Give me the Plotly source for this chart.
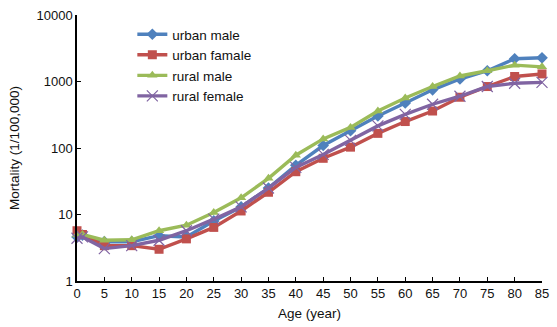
import plotly.graph_objects as go

ages = [0, 1, 5, 10, 15, 20, 25, 30, 35, 40, 45, 50, 55, 60, 65, 70, 75, 80, 85]
urban_male = [4.6, 4.9, 3.9, 3.9, 4.8, 4.6, 8, 13, 25, 55, 109, 182, 303, 475, 750, 1090, 1450, 2200, 2270]
urban_female = [5.7, 5.0, 3.4, 3.4, 3.0, 4.3, 6.4, 11.3, 21.6, 44, 70, 103, 166, 250, 360, 580, 840, 1190, 1300]
rural_male = [4.9, 5.0, 4.1, 4.17, 5.7, 6.9, 10.7, 17.8, 35, 78, 137, 204, 360, 565, 840, 1210, 1450, 1760, 1660]
rural_female = [4.4, 4.6, 3.07, 3.4, 4.1, 5.7, 8.5, 13, 25, 51, 80, 130, 215, 320, 455, 600, 840, 940, 970]

names = ["urban male", "urban famale", "rural male", "rural female"]
colors = ["#4F81BD", "#C0504D", "#9BBB59", "#8064A2"]
symbols = ["diamond", "square", "triangle-up", "x-thin"]
series = [urban_male, urban_female, rural_male, rural_female]

fig = go.Figure()
for name, col, sym, vals in zip(names, colors, symbols, series):
    if sym == "x-thin":
        marker = dict(symbol=sym, size=11, line=dict(color=col, width=1.2), color=col)
    else:
        marker = dict(symbol=sym, size=9, color=col)
    fig.add_trace(go.Scatter(x=ages, y=vals, name=name, mode="lines+markers",
                             line=dict(color=col, width=3.4), marker=marker,
                             cliponaxis=False))

font = "Liberation Sans, Arial, Helvetica, sans-serif"
fig.update_layout(
    width=557, height=327,
    margin=dict(l=77, r=8, t=12, b=44),
    paper_bgcolor="white", plot_bgcolor="white",
    font=dict(family=font, size=13, color="#111"),
    legend=dict(x=0.119, y=0.985, xanchor="left", yanchor="top",
                font=dict(size=13.5), bgcolor="rgba(0,0,0,0)",
                tracegroupgap=0, itemwidth=30),
    showlegend=True,
)
fig.update_xaxes(range=[0, 85], tickvals=list(range(0, 90, 5)),
                 showline=True, linecolor="#000", linewidth=1.5,
                 ticks="inside", ticklen=4, tickcolor="#000", showgrid=False,
                 zeroline=False, tickfont=dict(size=13),
                 title=dict(text="Age (year)", font=dict(size=13.5), standoff=8))
fig.update_yaxes(type="log", range=[0, 4],
                 tickvals=[1, 10, 100, 1000, 10000],
                 ticktext=["1", "10", "100", "1000", "10000"],
                 showline=True, linecolor="#000", linewidth=1.5,
                 ticks="inside", ticklen=4, tickcolor="#000", showgrid=False,
                 zeroline=False, tickfont=dict(size=13),
                 title=dict(text="Mortality (1/100,000)", font=dict(size=13.5), standoff=14))

fig.write_html("out.html")
